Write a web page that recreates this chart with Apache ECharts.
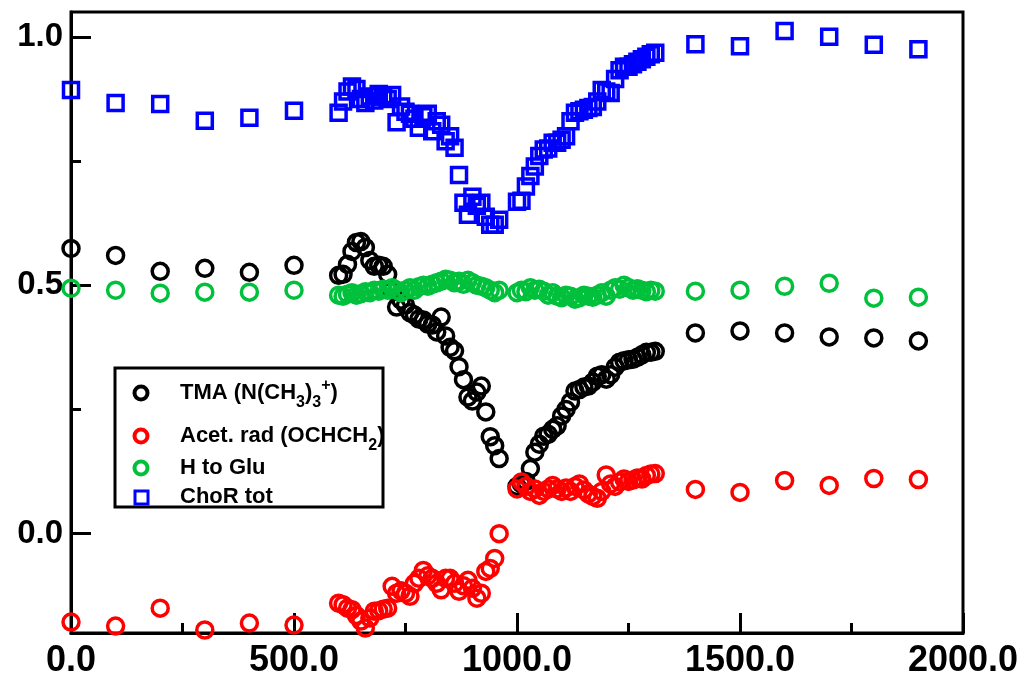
<!DOCTYPE html>
<html><head><meta charset="utf-8">
<script src="https://cdn.jsdelivr.net/npm/echarts@6/dist/echarts.min.js"></script>
<style>html,body{margin:0;padding:0;background:#fff}#c{width:1026px;height:679px}</style>
</head><body><div id="c"></div>
<script>
// ---- data ----
const xSparse = [0, 100, 200, 300, 400, 500, 1400, 1500, 1600, 1700, 1800, 1900];
const xDenseA = [600, 610, 620, 630, 640, 650, 660, 670, 680, 690, 700, 710, 720, 730, 740, 750, 760, 770, 780, 790,
                 800, 810, 820, 830, 840, 850, 860, 870, 880, 890, 900, 910, 920, 930, 940, 950, 960];
const xDenseB = [1000, 1010, 1020, 1030, 1040, 1050, 1060, 1070, 1080, 1090, 1100, 1110, 1120, 1130, 1140, 1150,
                 1160, 1170, 1180, 1190, 1200, 1210, 1220, 1230, 1240, 1250, 1260, 1270, 1280, 1290, 1300, 1310];

const tmaSparse = [0.574, 0.560, 0.528, 0.534, 0.526, 0.540, 0.404, 0.408, 0.404, 0.396, 0.394, 0.388];
const tmaA = [0.520, 0.522, 0.542, 0.568, 0.586, 0.588, 0.576, 0.550, 0.538, 0.540,
              0.538, 0.522, 0.490, 0.456, 0.470, 0.460, 0.445, 0.440, 0.432, 0.430,
              0.422, 0.420, 0.406, 0.436, 0.398, 0.375, 0.368, 0.336, 0.310, 0.275,
              0.267, 0.285, 0.297, 0.245, 0.195, 0.177, 0.151];
const tmaB = [0.095, 0.100, 0.105, 0.131, 0.164, 0.180, 0.196, 0.200, 0.210, 0.217,
              0.237, 0.250, 0.265, 0.287, 0.290, 0.295, 0.297, 0.305, 0.317, 0.320,
              0.311, 0.320, 0.335, 0.345, 0.348, 0.350, 0.351, 0.355, 0.360, 0.365,
              0.365, 0.367];

const acetSparse = [-0.178, -0.186, -0.150, -0.194, -0.180, -0.184, 0.089, 0.083, 0.107, 0.097, 0.111, 0.109];
const acetA = [-0.140, -0.143, -0.150, -0.153, -0.165, -0.176, -0.190, -0.170, -0.156, -0.155,
               -0.152, -0.150, -0.106, -0.120, -0.115, -0.120, -0.126, -0.100, -0.090, -0.074,
               -0.085, -0.090, -0.100, -0.113, -0.090, -0.090, -0.100, -0.116, -0.105, -0.094,
               -0.110, -0.130, -0.120, -0.076, -0.070, -0.050, 0.000];
const acetB = [0.090, 0.104, 0.095, 0.085, 0.090, 0.077, 0.085, 0.090, 0.097, 0.090,
               0.085, 0.092, 0.085, 0.095, 0.100, 0.088, 0.080, 0.075, 0.071, 0.085,
               0.118, 0.100, 0.095, 0.104, 0.110, 0.105, 0.108, 0.112, 0.110, 0.117,
               0.120, 0.121];

const gluSparse = [0.494, 0.490, 0.484, 0.486, 0.486, 0.490, 0.488, 0.490, 0.498, 0.504, 0.474, 0.476];
const gluA = [0.480, 0.478, 0.482, 0.485, 0.480, 0.483, 0.487, 0.485, 0.490, 0.488,
              0.492, 0.490, 0.495, 0.490, 0.485, 0.490, 0.495, 0.490, 0.497, 0.500,
              0.498, 0.502, 0.505, 0.508, 0.512, 0.510, 0.505, 0.508, 0.502, 0.510,
              0.505, 0.500, 0.498, 0.495, 0.490, 0.485, 0.490];
const gluB = [0.485, 0.490, 0.487, 0.495, 0.490, 0.492, 0.488, 0.480, 0.485, 0.478,
              0.475, 0.480, 0.478, 0.472, 0.475, 0.480, 0.478, 0.476, 0.480, 0.485,
              0.478, 0.490, 0.495, 0.492, 0.500, 0.495, 0.490, 0.493, 0.490, 0.487,
              0.490, 0.488];

const chorSparse = [0.893, 0.867, 0.865, 0.831, 0.837, 0.851, 0.985, 0.981, 1.012, 1.000, 0.984, 0.975];
const chorA = [0.847, 0.870, 0.890, 0.900, 0.895, 0.875, 0.867, 0.880, 0.872, 0.885,
               0.880, 0.875, 0.883, 0.828, 0.860, 0.849, 0.845, 0.835, 0.817, 0.840,
               0.845, 0.810, 0.830, 0.823, 0.790, 0.800, 0.777, 0.722, 0.666, 0.642,
               0.678, 0.660, 0.666, 0.638, 0.622, 0.622, 0.632];
const chorB = [0.668, 0.670, 0.699, 0.720, 0.739, 0.760, 0.773, 0.775, 0.787, 0.787,
               0.793, 0.800, 0.830, 0.847, 0.850, 0.853, 0.857, 0.859, 0.870, 0.893,
               0.890, 0.887, 0.915, 0.933, 0.940, 0.940, 0.945, 0.950, 0.955, 0.960,
               0.965, 0.968];

const seriesNames = ['TMA (N(CH3)3+)', 'Acet. rad (OCHCH2)', 'H to Glu', 'ChoR tot'];
const legendRich = [
  '{a|TMA (N(CH}{b|3}{a|)}{b|3}{c|+}{a|)}',
  '{a|Acet. rad (OCHCH}{b|2}{a|)}',
  '{a|H to Glu}',
  '{a|ChoR tot}'
];
const yMajor = [0, 0.5, 1.0];
const yMinor = [0.25, 0.75];

// ---- chart ----
const FONT = '"Liberation Sans", Arial, Helvetica, sans-serif';
const COLORS = ['#000000', '#ff0000', '#00c03c', '#0000ff'];
function pairs(xs, ys) { return xs.map((x, i) => [x, ys[i]]); }
function build(sp, a, b) { return pairs(xSparse, sp).concat(pairs(xDenseA, a), pairs(xDenseB, b)); }
const datasets = [
  build(tmaSparse, tmaA, tmaB),
  build(acetSparse, acetA, acetB),
  build(gluSparse, gluA, gluB),
  build(chorSparse, chorA, chorB)
];

const chart = echarts.init(document.getElementById('c'), null, { renderer: 'canvas' });
const axisLineStyle = { color: '#000', width: 3 };
const series = datasets.map((d, i) => ({
  name: seriesNames[i],
  type: 'scatter',
  data: d,
  symbol: i === 3 ? 'rect' : 'circle',
  symbolSize: i === 3 ? 15 : 16,
  itemStyle: { color: 'rgba(0,0,0,0)', borderColor: COLORS[i], borderWidth: 3.5, opacity: 1 },
  emphasis: { disabled: true },
  z: 2 + i
}));

const rowY = [393, 436, 468, 497];
const richStyles = {
  a: { fontSize: 22, fontWeight: 'bold', fontFamily: FONT, fill: '#000', lineHeight: 24 },
  b: { fontSize: 16, fontWeight: 'bold', fontFamily: FONT, fill: '#000', lineHeight: 16, padding: [20, 0, 0, 0] },
  c: { fontSize: 16, fontWeight: 'bold', fontFamily: FONT, fill: '#000', lineHeight: 16, padding: [0, 0, 14, 0] }
};
const graphic = [
  { type: 'rect', shape: { x: 115, y: 368, width: 268, height: 139 }, style: { fill: '#fff', stroke: '#000', lineWidth: 3 }, z: 20 }
];
rowY.forEach((y, i) => {
  if (i === 3) {
    graphic.push({ type: 'rect', shape: { x: 135, y: y - 6, width: 13, height: 13 }, style: { fill: 'none', stroke: COLORS[i], lineWidth: 3 }, z: 21 });
  } else {
    graphic.push({ type: 'circle', shape: { cx: 141, cy: y, r: 6.5 }, style: { fill: 'none', stroke: COLORS[i], lineWidth: 4 }, z: 21 });
  }
  graphic.push({ type: 'text', x: 180, y: y, style: { text: legendRich[i], rich: richStyles, verticalAlign: 'middle', align: 'left', font: 'bold 22px ' + FONT, fill: '#000' }, z: 21 });
});

chart.setOption({
  animation: false,
  backgroundColor: '#fff',
  grid: { left: 71, right: 63, top: 12, bottom: 44, show: true, borderColor: '#000', borderWidth: 3, backgroundColor: 'transparent' },
  xAxis: {
    type: 'value', min: 0, max: 2000, interval: 500,
    axisLine: { onZero: false, lineStyle: axisLineStyle },
    axisTick: { inside: true, length: 20, lineStyle: axisLineStyle },
    minorTick: { show: true, splitNumber: 2, length: 10, lineStyle: axisLineStyle },
    splitLine: { show: false }, minorSplitLine: { show: false },
    axisLabel: { formatter: v => v.toFixed(1), color: '#000', fontFamily: FONT, fontWeight: 'bold', fontSize: 36, margin: 10 }
  },
  yAxis: [
    {
      type: 'value', min: -0.2, max: 1.05,
      axisLine: { onZero: false, lineStyle: axisLineStyle },
      axisTick: { inside: true, length: 20, lineStyle: axisLineStyle, customValues: yMajor },
      splitLine: { show: false },
      axisLabel: { customValues: yMajor, formatter: v => v.toFixed(1), color: '#000', fontFamily: FONT, fontWeight: 'bold', fontSize: 33, margin: 8 }
    },
    {
      type: 'value', min: -0.2, max: 1.05, position: 'left',
      axisLine: { show: false, onZero: false },
      axisTick: { inside: true, length: 10, lineStyle: axisLineStyle, customValues: yMinor },
      splitLine: { show: false },
      axisLabel: { show: false }
    }
  ],
  series: series,
  graphic: graphic
});
</script>
</body></html>
